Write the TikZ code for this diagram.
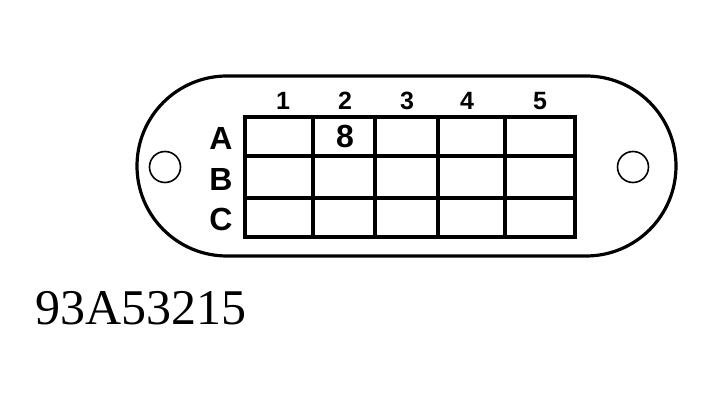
\documentclass[tikz,border=0pt]{standalone}
\usepackage{fontspec}
\setmainfont{Liberation Serif}
\newfontfamily\labfont{Liberation Sans}
\begin{document}
\begin{tikzpicture}[x=1pt,y=-1pt,
  plate/.style={line width=3.2pt},
  gridline/.style={line width=3.4pt,line cap=rect},
  hole/.style={circle,draw,line width=1.6pt,minimum size=31pt,inner sep=0pt},
  rowlab/.style={font=\labfont\bfseries\fontsize{32}{32}\selectfont,inner sep=0pt},
  collab/.style={font=\labfont\bfseries\fontsize{25}{25}\selectfont,inner sep=0pt}]
\useasboundingbox (0,0) rectangle (713,403);
\draw[plate,rounded corners=90pt] (137,76) rectangle (676,256);
\node[hole] (h1) at (165,167) {};
\node[hole] (h2) at (633,167) {};
% grid
\draw[gridline] (245,117) rectangle (575,237);
\foreach \x in {313,375,438,505} \draw[gridline] (\x,117) -- (\x,237);
\foreach \y in {156,198} \draw[gridline] (245,\y) -- (575,\y);
% labels
\node[rowlab] (ra) at (221,138) {A};
\node[rowlab] (rb) at (221,179) {B};
\node[rowlab] (rc) at (221,219) {C};
\node[collab] (c1) at (283,101) {1};
\node[collab] (c2) at (345,101) {2};
\node[collab] (c3) at (407,101) {3};
\node[collab] (c4) at (467,101) {4};
\node[collab] (c5) at (540,101) {5};
\node[rowlab] (v8) at (345,136) {8};
\node[anchor=base west,inner sep=0pt,font=\fontsize{50}{50}\selectfont] (code) at (35,325) {93A53215};
\end{tikzpicture}
\end{document}
